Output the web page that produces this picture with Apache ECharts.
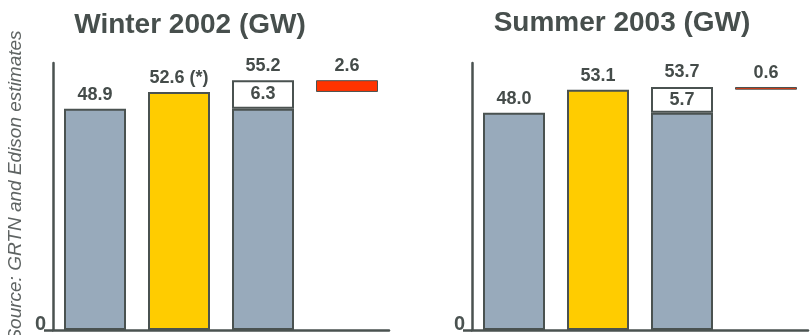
<!DOCTYPE html>
<html>
<head>
<meta charset="utf-8">
<script src="https://cdn.jsdelivr.net/npm/echarts@6/dist/echarts.min.js"></script>
<style>
  html, body { margin: 0; padding: 0; background: #fff; }
  #chart { width: 811px; height: 335px; }
</style>
</head>
<body>
<div id="chart"></div>
<script>
// Categories shared by both panels
var categories = ['Demand', 'Peak', 'Capacity', 'Gap'];

// Winter 2002 (GW)
var winterBase = [48.9, 52.6, 48.9, 52.6];   // lower stack (last one is an invisible offset)
var winterTop = [null, null, 6.3, 2.6];       // upper stack: extra capacity / shortfall
var winterTotals = [null, null, 55.2, null];  // total above the capacity bar
var winterNotes = ['', ' (*)', '', ''];

// Summer 2003 (GW)
var summerBase = [48.0, 53.1, 48.0, 53.1];
var summerTop = [null, null, 5.7, 0.6];
var summerTotals = [null, null, 53.7, null];
var summerNotes = ['', '', '', ''];

var titles = ['Winter 2002 (GW)', 'Summer 2003 (GW)'];
var sourceText = 'Source: GRTN and Edison estimates';

var INK = '#4a5250';
var GREY = '#98aabb';
var YELLOW = '#ffcc00';
var RED = '#ff3300';
var FONT = '"Liberation Sans", Arial, sans-serif';

var labelFont = { color: '#454c4a', fontFamily: FONT, fontWeight: 'bold', fontSize: 18 };

function fmt(v) { return Number(v).toFixed(1); }

function panelSeries(idx, base, top, totals, notes) {
  var baseColors = [GREY, YELLOW, GREY, 'transparent'];
  var baseData = base.map(function (v, i) {
    var item = { value: v, itemStyle: { color: baseColors[i] } };
    if (i === 3) { item.itemStyle.borderWidth = 0; }
    if (i >= 2) { item.label = { show: false }; }
    return item;
  });
  var topColors = [null, null, '#ffffff', RED];
  var topData = top.map(function (v, i) {
    if (v == null) return null;
    var item = {
      value: v,
      itemStyle: { color: topColors[i] },
      label: { position: i === 2 ? 'inside' : 'top' }
    };
    if (i === 3) { item.itemStyle.borderWidth = 1; }
    return item;
  });
  return [
    {
      type: 'bar', xAxisIndex: idx, yAxisIndex: idx, stack: 's' + idx,
      barWidth: 62,
      itemStyle: { borderColor: INK, borderWidth: 2 },
      label: Object.assign({
        show: true, position: 'top', distance: 5,
        formatter: function (p) { return fmt(p.value) + notes[p.dataIndex]; }
      }, labelFont),
      data: baseData
    },
    {
      type: 'bar', xAxisIndex: idx, yAxisIndex: idx, stack: 's' + idx,
      barWidth: 62,
      itemStyle: { borderColor: INK, borderWidth: 2 },
      label: Object.assign({
        show: true, distance: 5,
        formatter: function (p) { return fmt(p.value); }
      }, labelFont),
      data: topData
    },
    {
      type: 'scatter', xAxisIndex: idx, yAxisIndex: idx,
      symbolSize: 1,
      itemStyle: { color: 'transparent', opacity: 1 },
      label: Object.assign({
        show: true, position: 'top', distance: 5,
        formatter: function (p) { return fmt(p.value); }
      }, labelFont),
      data: totals
    }
  ];
}

var axisLineStyle = { color: INK, width: 2.5 };

function xAxisFor(idx) {
  return {
    type: 'category', gridIndex: idx, data: categories,
    axisLine: { show: true, lineStyle: axisLineStyle },
    axisTick: { show: false },
    axisLabel: { show: false }
  };
}

function yAxisFor(idx) {
  return {
    type: 'value', gridIndex: idx, min: 0, max: 59,
    axisLine: { show: true, lineStyle: axisLineStyle },
    splitLine: { show: false },
    axisTick: { show: true, customValues: [0], length: 9, lineStyle: axisLineStyle },
    axisLabel: {
      customValues: [0], margin: 7, verticalAlign: 'bottom', lineHeight: 12,
      color: INK, fontFamily: FONT, fontWeight: 'bold', fontSize: 20
    }
  };
}

var chart = echarts.init(document.getElementById('chart'), null, { renderer: 'canvas' });

chart.setOption({
  animation: false,
  backgroundColor: '#ffffff',
  title: [
    { text: titles[0], left: 185, top: 6, textAlign: 'center',
      textStyle: { color: '#474f4d', fontFamily: FONT, fontWeight: 'bold', fontSize: 28 } },
    { text: titles[1], left: 617, top: 4, textAlign: 'center',
      textStyle: { color: '#474f4d', fontFamily: FONT, fontWeight: 'bold', fontSize: 28 } }
  ],
  graphic: [{
    type: 'text', x: 16, y: 186, rotation: Math.PI / 2,
    style: {
      text: sourceText, align: 'center', verticalAlign: 'middle',
      fill: '#5f6463', font: 'italic 19px ' + FONT
    }
  }],
  grid: [
    { left: 53, top: 63, width: 336, height: 267 },
    { left: 472, top: 63, width: 336, height: 267 }
  ],
  xAxis: [xAxisFor(0), xAxisFor(1)],
  yAxis: [yAxisFor(0), yAxisFor(1)],
  series: panelSeries(0, winterBase, winterTop, winterTotals, winterNotes)
    .concat(panelSeries(1, summerBase, summerTop, summerTotals, summerNotes))
});
</script>
</body>
</html>
